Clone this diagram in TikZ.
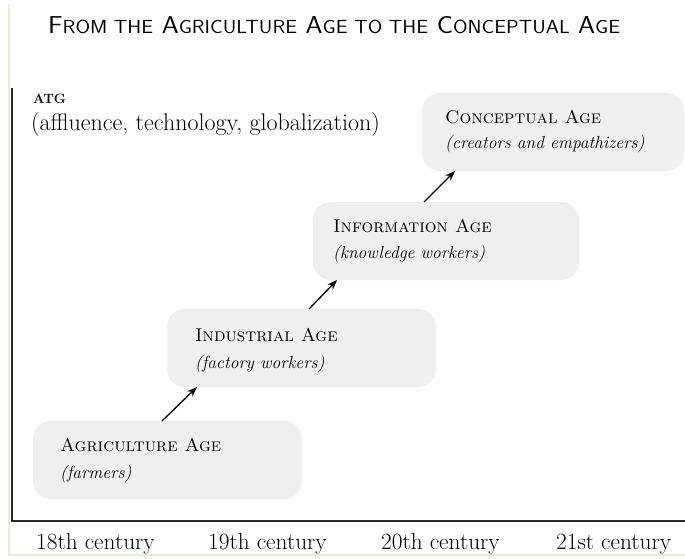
\documentclass[tikz,border=0pt]{standalone}
\usepackage{graphicx}
\usetikzlibrary{arrows.meta}
\definecolor{boxgray}{HTML}{EFEFEF}
\definecolor{edgecream}{HTML}{F5E8CC}
\definecolor{axisgray}{HTML}{2A2A2A}
% faked small capitals for the sans title
\newcommand\tsmall[1]{{\fontsize{15.5}{18}\selectfont #1}}
\begin{document}
\begin{tikzpicture}[x=1pt,y=-1pt,
  agebox/.style={fill=boxgray, draw=none, rounded corners=18pt, inner sep=0pt,
    outer sep=0pt, anchor=north west, minimum height=78pt},
  agehead/.style={anchor=base west, inner sep=0pt, font=\fontsize{18.5}{21}\selectfont\scshape},
  ageitem/.style={anchor=base west, inner sep=0pt, font=\fontsize{17.5}{20}\selectfont\itshape},
  century/.style={anchor=base west, inner sep=0pt, font=\fontsize{23.3}{26}\selectfont},
  conn/.style={-{Stealth[length=10pt,width=7.5pt]}, line width=1.3pt, black},
  axisline/.style={line width=2pt, axisgray}]
\useasboundingbox (0,0) rectangle (685,558);
\fill[white] (0,0) rectangle (685,558);

% thin cream edge at left and bottom
\fill[edgecream] (7.5,4) rectangle (9.5,556);
\fill[edgecream] (7.5,554) rectangle (685,556);

% title
\node[anchor=base west, inner sep=0pt] (title) at (48,33)
  {\resizebox{572pt}{17pt}{\sffamily\fontsize{20}{24}\selectfont
   F\tsmall{ROM THE} A\tsmall{GRICULTURE} A\tsmall{GE TO THE} C\tsmall{ONCEPTUAL} A\tsmall{GE}}};

% axes
\coordinate (ytop) at (12,88);
\coordinate (origin) at (12,521);
\coordinate (xend) at (685,521);
\draw[axisline] (ytop) -- (origin) -- (xend);

% y-axis caption
\node[anchor=base west, inner sep=0pt, font=\fontsize{13.5}{15}\selectfont\bfseries] (atg) at (33,103) {ATG};
\node[anchor=base west, inner sep=0pt, font=\fontsize{24}{27}\selectfont] (atgnote) at (31,130)
  {(affluence, technology, globalization)};

% the four ages
\node[agebox, minimum width=269pt] (agri) at (33,421) {};
\node[agebox, minimum width=269pt] (indu) at (167,309) {};
\node[agebox, minimum width=266pt] (info) at (313,202) {};
\node[agebox, minimum width=262pt] (conc) at (422,93) {};

\node[agehead] (agri-h) at ([shift={(27,30)}]agri.north west) {Agriculture Age};
\node[ageitem] (agri-i) at ([shift={(27,57)}]agri.north west) {(farmers)};
\node[agehead] (indu-h) at ([shift={(28,32)}]indu.north west) {Industrial Age};
\node[ageitem] (indu-i) at ([shift={(28,59)}]indu.north west) {(factory workers)};
\node[agehead] (info-h) at ([shift={(20,30)}]info.north west) {Information Age};
\node[ageitem] (info-i) at ([shift={(20,56)}]info.north west) {(knowledge workers)};
\node[agehead] (conc-h) at ([shift={(23,30)}]conc.north west) {Conceptual Age};
\node[ageitem] (conc-i) at ([shift={(23,55)}]conc.north west) {(creators and empathizers)};

% progression arrows
\draw[conn] ([xshift=129pt]agri.north west) -- ([xshift=30pt]indu.south west);
\draw[conn] ([xshift=142pt]indu.north west) -- ([xshift=24pt]info.south west);
\draw[conn] ([xshift=111pt]info.north west) -- ([xshift=33pt]conc.south west);

% time axis labels
\node[century] (c18) at (36,549) {18th century};
\node[century] (c19) at (208,549) {19th century};
\node[century] (c20) at (381,549) {20th century};
\node[century] (c21) at (556,549) {21st century};
\end{tikzpicture}
\end{document}
